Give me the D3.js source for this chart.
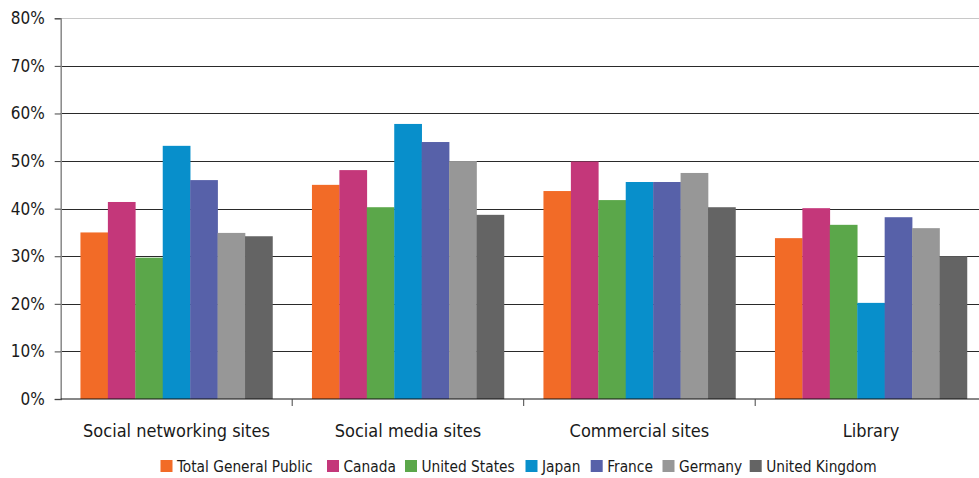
<!DOCTYPE html>
<html><head><meta charset="utf-8">
<script src="https://cdn.jsdelivr.net/npm/d3@7"></script>
<style>
body{margin:0;background:#fff;}
text{font-family:"Liberation Sans Narrow","DejaVu Sans Condensed","Open Sans",sans-serif;fill:#1a1a1a;}
</style></head><body>
<svg id="c" width="979" height="478"></svg>
<script>
const categories = ["Social networking sites","Social media sites","Commercial sites","Library"];
const seriesNames = ["Total General Public","Canada","United States","Japan","France","Germany","United Kingdom"];
const seriesColors = ["#F26B27","#C4377A","#5BA74A","#088FCB","#5761A9","#979797","#646464"];
const totalGeneralPublic = [35.0, 45.0, 43.7, 33.8];
const canada = [41.4, 48.1, 49.9, 40.1];
const unitedStates = [29.7, 40.3, 41.8, 36.6];
const japan = [53.2, 57.8, 45.6, 20.2];
const france = [46.0, 54.0, 45.6, 38.2];
const germany = [34.9, 50.0, 47.5, 35.9];
const unitedKingdom = [34.2, 38.7, 40.3, 30.0];
const yTicks = [0,10,20,30,40,50,60,70,80];

const values = [totalGeneralPublic, canada, unitedStates, japan, france, germany, unitedKingdom];

const svg = d3.select("#c");
const left = 60.7, groupW = 231.5;
const x0 = d3.scaleBand().domain(categories).range([left, left + groupW*categories.length]).paddingInner(0).paddingOuter(0);
const x1 = d3.scaleBand().domain(seriesNames).range([0, groupW]).paddingInner(0).paddingOuter(0.72);
const y = d3.scaleLinear().domain([0,80]).range([399, 18.3]);

// gridlines
svg.append("g").selectAll("line").data(yTicks.filter(t=>t>0)).join("line")
  .attr("x1", left).attr("x2", 979)
  .attr("y1", d=>Math.round(y(d))+0.5).attr("y2", d=>Math.round(y(d))+0.5)
  .attr("stroke", d=> d===80 ? "#c8c8c8" : "#2a2a2a").attr("stroke-width", 1);

// bars
const g = svg.append("g").selectAll("g").data(categories).join("g")
  .attr("transform", d=>`translate(${x0(d)},0)`);
g.selectAll("rect").data((c,ci)=>seriesNames.map((s,si)=>({s, v: values[si][ci], color: seriesColors[si]}))).join("rect")
  .attr("x", d=>x1(d.s)).attr("width", x1.bandwidth()+0.3)
  .attr("y", d=>y(d.v)).attr("height", d=>y(0)-y(d.v))
  .attr("fill", d=>d.color);

// y axis
const yAxis = d3.axisLeft(y).tickValues(yTicks).tickFormat(d=>d+"%").tickSize(6).tickPadding(10);
const ya = svg.append("g").attr("transform", `translate(${left},0)`).call(yAxis);
ya.select(".domain").attr("stroke","#888").attr("stroke-width",1.5);
ya.selectAll(".tick line").attr("stroke","#444");
ya.selectAll("text").attr("font-size", 17).attr("fill","#1a1a1a");

// x axis
const xa = svg.append("g").attr("transform", `translate(0,${y(0)})`);
xa.append("line").attr("x1", left).attr("x2", 979).attr("stroke","#111").attr("stroke-width",1.2);
xa.selectAll(".sep").data(categories.slice(1)).join("line").attr("class","sep")
  .attr("x1", d=>x0(d)).attr("x2", d=>x0(d)).attr("y1",0).attr("y2",7).attr("stroke","#444");
xa.selectAll(".lbl").data(categories).join("text").attr("class","lbl")
  .attr("x", d=>x0(d)+x0.bandwidth()/2).attr("y", 38)
  .attr("text-anchor","middle").attr("font-size", 18).text(d=>d);

// legend
const legendX = [160.5, 327, 405, 525.5, 590.7, 662.5, 749.7];
const lg = svg.append("g").selectAll("g").data(seriesNames).join("g")
  .attr("transform", (d,i)=>`translate(${legendX[i]},466)`);
lg.append("rect").attr("x",0).attr("y",-6).attr("width",12).attr("height",12).attr("fill",(d,i)=>seriesColors[i]);
lg.append("text").attr("x",16.5).attr("y",5.5).attr("font-size",15.3).text(d=>d);
</script></body></html>
